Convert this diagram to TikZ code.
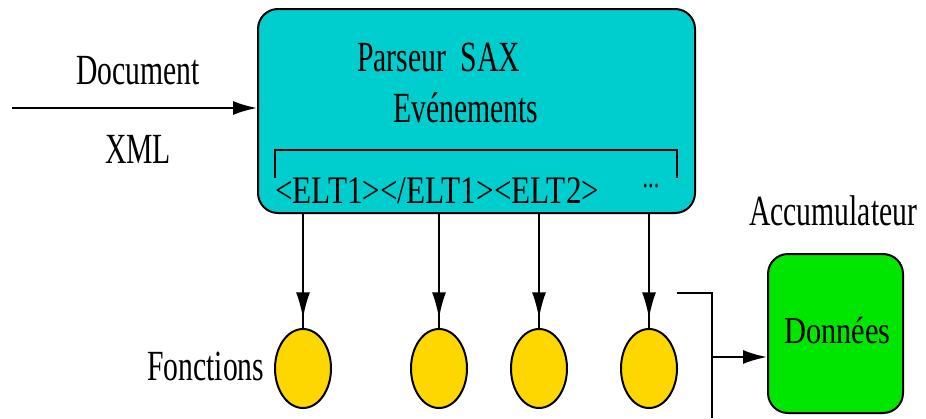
\documentclass[tikz,border=0pt]{standalone}
\usepackage{fontspec}
\setmainfont{Liberation Serif}[FakeStretch=0.69]
\newfontfamily\widefont{Liberation Serif}[FakeStretch=0.8]
\usetikzlibrary{arrows.meta,decorations.markings,shapes.geometric}
\definecolor{parsercyan}{RGB}{0,206,206}
\definecolor{handlergold}{RGB}{255,215,0}
\definecolor{storegreen}{RGB}{0,230,0}
\tikzset{
  label43/.style={font=\fontsize{43}{45}\selectfont, inner sep=0pt},
  flowtip/.style={-{Latex[length=24pt,width=14pt]}},
  flowline/.style={line width=2pt},
  handler/.style={ellipse, draw, line width=2pt, fill=handlergold,
    minimum width=56pt, minimum height=79pt, inner sep=0pt},
  callarrow/.style={flowline, postaction={decorate}, decoration={markings,
    mark=at position 0.915 with {\arrow{Latex[length=26pt,width=14pt]}}}}
}
\begin{document}
\begin{tikzpicture}[x=1pt,y=-1pt]
\useasboundingbox (0,0) rectangle (926,418);

% parser box
\node (parser) [draw, line width=2pt, fill=parsercyan, rounded corners=20pt,
  minimum width=437pt, minimum height=204pt, anchor=north west] at (257,8) {};
\node (title) [label43, anchor=base west] at (357,71) {Parseur\ \ SAX};
\node (events) [label43, anchor=base west] at (393,122) {Evénements};
\draw[line width=2pt] (275,178) -- (275,150) -- (677,150) -- (677,178);
\node (stream) [inner sep=0pt, anchor=base west,
  font=\widefont\fontsize{39}{42}\selectfont] at (275,203)
  {<ELT1></ELT1><ELT2>};
\node (more) [inner sep=0pt, font=\fontsize{32}{34}\selectfont] at (651,186) {...};

% incoming document
\node (doc) [label43, anchor=base] at (138,84) {Document};
\node (xml) [label43, anchor=base] at (138,163) {XML};
\coordinate (docin) at (12,108);
\draw[flowline, flowtip] (docin) -- (docin -| parser.west);

% handler functions
\node (f1) [handler] at (303,368.5) {};
\node (f2) [handler] at (439,368.5) {};
\node (f3) [handler] at (539,368.5) {};
\node (f4) [handler] at (649,368.5) {};
\node (fonctions) [label43, anchor=base west] at (147,380) {Fonctions};
\foreach \f in {f1,f2,f3,f4}
  \draw[callarrow] (\f |- parser.south) -- (\f.north);

% accumulator
\node (store) [draw, line width=2pt, fill=storegreen, rounded corners=20pt,
  minimum width=135pt, minimum height=159pt, anchor=north west] at (767,253) {};
\node (donnees) [inner sep=0pt, anchor=base,
  font=\widefont\fontsize{38}{40}\selectfont] at (837.5,343) {Données};
\node (accu) [label43, anchor=base west] at (749,225) {Accumulateur};
\coordinate (busin) at (677,293);
\coordinate (busjoin) at (712,293);
\coordinate (busend) at (712,418);
\coordinate (busout) at (712,357);
\draw[flowline] (busin) -- (busjoin) -- (busend);
\draw[flowline, flowtip] (busout) -- (busout -| store.west);
\end{tikzpicture}
\end{document}
